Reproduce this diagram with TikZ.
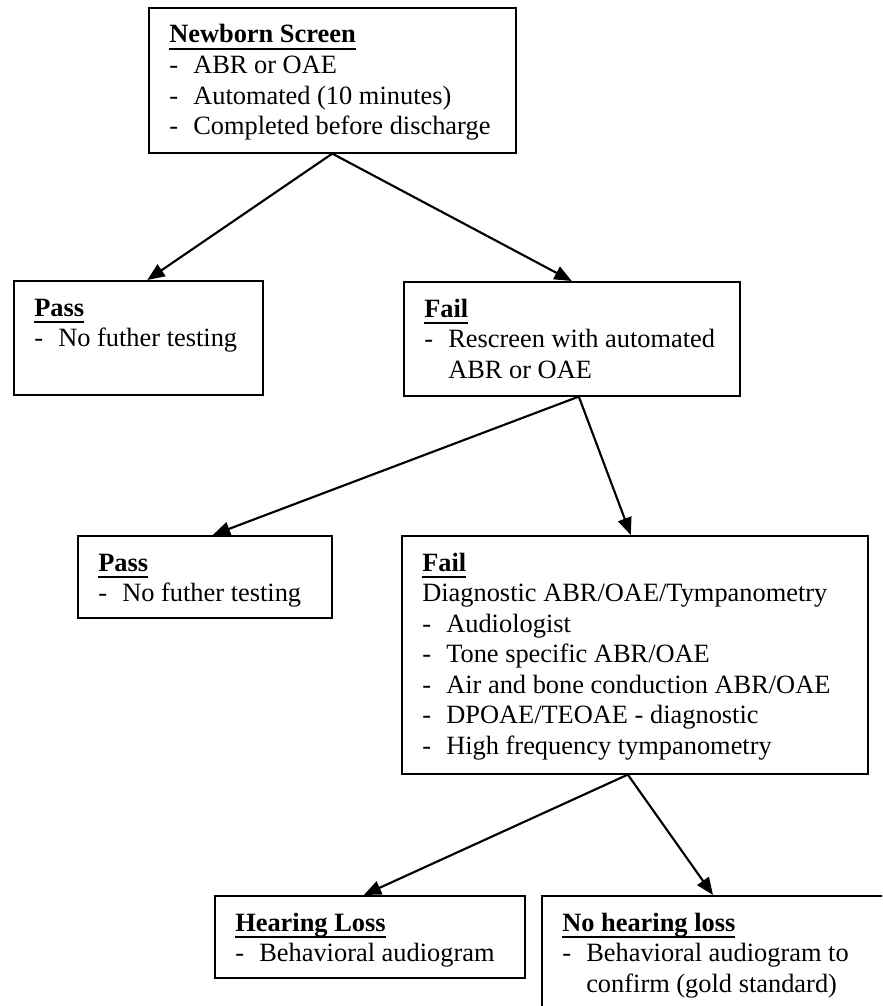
\documentclass[tikz,border=0pt]{standalone}
\usepackage{fontspec}
\setmainfont{Liberation Serif}
\usetikzlibrary{arrows.meta,calc}
\newsavebox{\hdbox}
\newcommand{\hd}[1]{\sbox{\hdbox}{\textbf{#1}}\rlap{\rule[-5pt]{\wd\hdbox}{1.6pt}}\usebox{\hdbox}}
\newcommand{\hdrow}[1]{\multicolumn{2}{@{}l@{}}{#1}}
\begin{document}
\begin{tikzpicture}[x=0.75pt,y=-0.75pt,
  box/.style={draw, line width=1.2pt, inner sep=0pt, anchor=north west},
  txt/.style={inner sep=0pt, anchor=base west, font=\fontsize{19.8}{22.9}\selectfont},
  arr/.style={line width=1.6pt, -{Triangle[length=13pt,width=10.5pt]}}]
\useasboundingbox (0,0) rectangle (882,1006);
\clip (0,0) rectangle (882,1006);

% boxes
\node[box, minimum width=275.25pt, minimum height=108.75pt] (nb) at (148,7) {};
\node[box, minimum width=186.75pt, minimum height=85.5pt] (p1) at (13,280) {};
\node[box, minimum width=252pt, minimum height=85.5pt] (f1) at (403,281) {};
\node[box, minimum width=190.5pt, minimum height=61.5pt] (p2) at (77,535) {};
\node[box, minimum width=349.5pt, minimum height=178.5pt] (f2) at (401,535) {};
\node[box, minimum width=232.5pt, minimum height=61.5pt] (hl) at (214,895) {};
\node[box, minimum width=300pt, minimum height=150pt] (nhl) at (541,895) {};

% texts
\node[txt] (nbt) at ($(nb.north west)+(21,36)$) {\begin{tabular}[t]{@{}p{18pt}@{}l@{}}
\hdrow{\hd{Newborn Screen}}\\
- & ABR or OAE\\
- & Automated (10 minutes)\\
- & Completed before discharge
\end{tabular}};
\node[txt] (p1t) at ($(p1.north west)+(21,36)$) {\begin{tabular}[t]{@{}p{18pt}@{}l@{}}
\hdrow{\hd{Pass}}\\
- & No futher testing
\end{tabular}};
\node[txt] (f1t) at ($(f1.north west)+(21,36)$) {\begin{tabular}[t]{@{}p{18pt}@{}l@{}}
\hdrow{\hd{Fail}}\\
- & Rescreen with automated\\
  & ABR or OAE
\end{tabular}};
\node[txt] (p2t) at ($(p2.north west)+(21,36)$) {\begin{tabular}[t]{@{}p{18pt}@{}l@{}}
\hdrow{\hd{Pass}}\\
- & No futher testing
\end{tabular}};
\node[txt] (f2t) at ($(f2.north west)+(21,36)$) {\begin{tabular}[t]{@{}p{18pt}@{}l@{}}
\hdrow{\hd{Fail}}\\
\hdrow{Diagnostic ABR/OAE/Tympanometry}\\
- & Audiologist\\
- & Tone specific ABR/OAE\\
- & Air and bone conduction ABR/OAE\\
- & DPOAE/TEOAE - diagnostic\\
- & High frequency tympanometry
\end{tabular}};
\node[txt] (hlt) at ($(hl.north west)+(21,36)$) {\begin{tabular}[t]{@{}p{18pt}@{}l@{}}
\hdrow{\hd{Hearing Loss}}\\
- & Behavioral audiogram
\end{tabular}};
\node[txt] (nhlt) at ($(nhl.north west)+(21,36)$) {\begin{tabular}[t]{@{}p{18pt}@{}l@{}}
\hdrow{\hd{No hearing loss}}\\
- & Behavioral audiogram to\\
  & confirm (gold standard)
\end{tabular}};

% connectors
\draw[arr] (nb.south) -- ($(p1.north)+(9,0)$);
\draw[arr] (nb.south) -- (f1.north);
\draw[arr] ($(f1.south)+(7,0)$) -- ($(p2.north)+(8,0)$);
\draw[arr] ($(f1.south)+(7,0)$) -- ($(f2.north)+(-4,0)$);
\draw[arr] ($(f2.south)+(-7,0)$) -- ($(hl.north)+(-6,0)$);
\draw[arr] ($(f2.south)+(-7,0)$) -- ($(nhl.north west)+(172,0)$);
\end{tikzpicture}
\end{document}
